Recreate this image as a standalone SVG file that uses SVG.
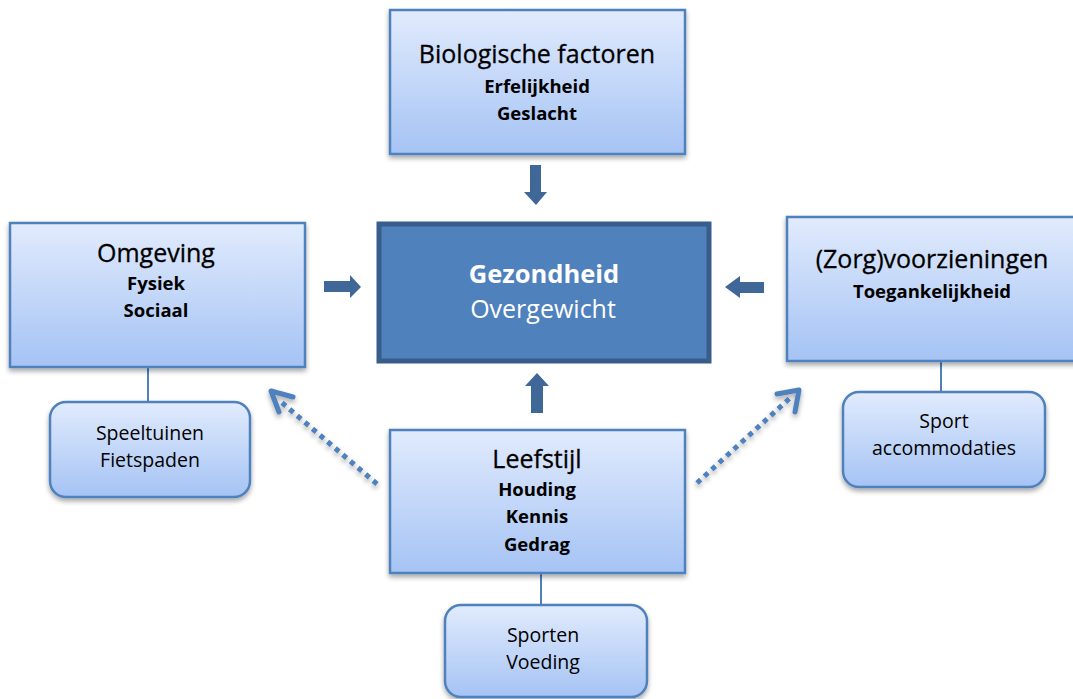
<svg xmlns="http://www.w3.org/2000/svg" width="1073" height="699" viewBox="0 0 1073 699">
<defs>
<linearGradient id="g" x1="0" y1="0" x2="0" y2="1">
<stop offset="0" stop-color="#E1EBFD"/>
<stop offset="1" stop-color="#A5C3F4"/>
</linearGradient>
<filter id="sh" x="-10%" y="-10%" width="120%" height="130%">
<feDropShadow dx="0" dy="3" stdDeviation="2.5" flood-color="#000" flood-opacity="0.35"/>
</filter>
</defs>
<style>
.box{fill:url(#g);stroke:#4F81BD;stroke-width:2.5;filter:url(#sh)}
.sub{fill:url(#g);stroke:#4F81BD;stroke-width:2.5;filter:url(#sh)}
.t{font-family:"Open Sans","Liberation Sans",sans-serif;font-size:25px;fill:#000;stroke:#000;stroke-width:0.3;text-anchor:middle}
.b{font-family:"Open Sans","Liberation Sans",sans-serif;font-size:18.5px;font-weight:bold;fill:#000;text-anchor:middle}
.s{font-family:"Open Sans","Liberation Sans",sans-serif;font-size:19.5px;fill:#000;text-anchor:middle}
.arr{fill:#3F6797}
.ln{stroke:#4F81BD;stroke-width:2;fill:none}
.dot{stroke:#4F81BD;stroke-width:5;stroke-dasharray:5 5;fill:none}
.head{fill:none;stroke:#4F81BD;stroke-width:5;stroke-linecap:round;stroke-linejoin:round}
</style>
<rect width="1073" height="699" fill="#fff"/>

<g id="connectors">
<line class="ln" x1="148" y1="367" x2="148" y2="402"/>
<line class="ln" x1="941" y1="361" x2="941" y2="392"/>
<line class="ln" x1="541" y1="573" x2="541" y2="605"/>
<polygon class="arr" points="530,165 541,165 541,192 547,192 536,205 524,192 530,192"/>
<polygon class="arr" points="324,281 350,281 350,275 361,287 350,298 350,292 324,292"/>
<polygon class="arr" points="764,282 740,282 740,276 725,287 740,298 740,293 764,293"/>
<polygon class="arr" points="531,413 543,413 543,386 549,386 537,373 525,386 531,386"/>
<g filter="url(#sh)">
<line class="dot" x1="377" y1="484" x2="280" y2="401"/>
<polyline class="head" points="293,397 271,391 279,412"/>
<line class="dot" x1="697" y1="483" x2="790" y2="398"/>
<polyline class="head" points="777,394 799,390 795,412"/>
</g>
</g>

<g id="biologische">
<rect class="box" x="390" y="10" width="295" height="144"/>
<text class="t" x="537" y="63">Biologische factoren</text>
<text class="b" x="537" y="93">Erfelijkheid</text>
<text class="b" x="537" y="120">Geslacht</text>
</g>

<g id="omgeving">
<rect class="box" x="10" y="223" width="295" height="144"/>
<text class="t" x="156" y="262">Omgeving</text>
<text class="b" x="156" y="290">Fysiek</text>
<text class="b" x="156" y="317">Sociaal</text>
</g>

<g id="gezondheid">
<rect x="379" y="224" width="330" height="137" fill="#4F81BD" stroke="#385D8A" stroke-width="5"/>
<text x="544" y="283" font-family="Open Sans, Liberation Sans, sans-serif" font-size="25.5" font-weight="bold" fill="#fff" text-anchor="middle">Gezondheid</text>
<text x="543" y="318" font-family="Open Sans, Liberation Sans, sans-serif" font-size="25" fill="#fff" text-anchor="middle">Overgewicht</text>
</g>

<g id="zorg">
<rect class="box" x="787" y="217" width="300" height="144"/>
<text class="t" x="932" y="268">(Zorg)voorzieningen</text>
<text class="b" x="932" y="298">Toegankelijkheid</text>
</g>

<g id="leefstijl">
<rect class="box" x="390" y="430" width="295" height="143"/>
<text class="t" x="537" y="468">Leefstijl</text>
<text class="b" x="537" y="496">Houding</text>
<text class="b" x="537" y="523">Kennis</text>
<text class="b" x="537" y="551">Gedrag</text>
</g>

<g id="speeltuinen">
<rect class="sub" x="50" y="402" width="200" height="95" rx="16"/>
<text class="s" x="150" y="440">Speeltuinen</text>
<text class="s" x="150" y="467">Fietspaden</text>
</g>

<g id="sport">
<rect class="sub" x="843" y="392" width="202" height="95" rx="16"/>
<text class="s" x="944" y="428">Sport</text>
<text class="s" x="944" y="455">accommodaties</text>
</g>

<g id="sporten">
<rect class="sub" x="445" y="605" width="202" height="92" rx="16"/>
<text class="s" x="543" y="642">Sporten</text>
<text class="s" x="543" y="669">Voeding</text>
</g>
</svg>
